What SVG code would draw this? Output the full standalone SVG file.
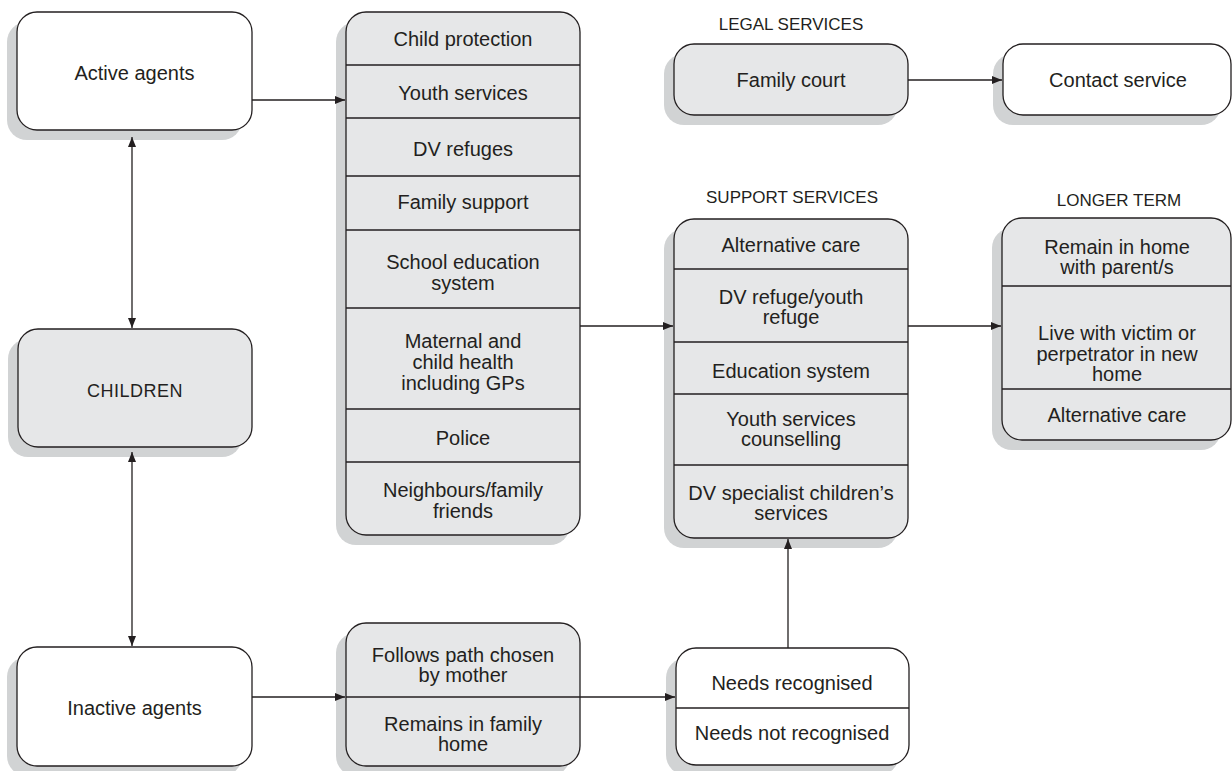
<svg xmlns="http://www.w3.org/2000/svg" width="1232" height="771" viewBox="0 0 1232 771">
<defs>
<style>
.sh{fill:#d1d3d4;stroke:none}
.bx{stroke:#231f20;stroke-width:1.3}
.g{fill:#e6e7e8}
.w{fill:#ffffff}
.dv{stroke:#231f20;stroke-width:1.3;fill:none}
text{font-family:"Liberation Sans",Arial,sans-serif;font-size:20px;fill:#231f20;text-anchor:middle}
.hd{font-size:17px}
.cn{stroke:#231f20;stroke-width:1.3;fill:none;marker-end:url(#ah)}
.bi{marker-start:url(#ah)}
</style>
<marker id="ah" markerUnits="userSpaceOnUse" markerWidth="11" markerHeight="9" refX="10" refY="4" orient="auto-start-reverse" viewBox="0 0 11 9">
<path d="M0,0 L10,4 L0,8 z" fill="#231f20"/>
</marker>
</defs>

<g id="active">
<rect class="sh" x="7" y="22" width="235" height="118" rx="20"/>
<rect class="bx w" x="17" y="12" width="235" height="118" rx="20"/>
<text x="134.5" y="80">Active agents</text>
</g>

<g id="children">
<rect class="sh" x="8" y="339" width="234" height="118" rx="20"/>
<rect class="bx g" x="18" y="329" width="234" height="118" rx="20"/>
<text x="135" y="397" style="font-size:18px;letter-spacing:0.5px">CHILDREN</text>
</g>

<g id="inactive">
<rect class="sh" x="7" y="657" width="235" height="119" rx="20"/>
<rect class="bx w" x="17" y="647" width="235" height="119" rx="20"/>
<text x="134.5" y="715">Inactive agents</text>
</g>

<g id="agencies">
<rect class="sh" x="336" y="22" width="234" height="523" rx="20"/>
<rect class="bx g" x="346" y="12" width="234" height="523" rx="20"/>
<path class="dv" d="M346,65H580M346,118H580M346,176H580M346,230H580M346,308H580M346,409H580M346,462H580"/>
<text x="463" y="46">Child protection</text>
<text x="463" y="100">Youth services</text>
<text x="463" y="156">DV refuges</text>
<text x="463" y="209">Family support</text>
<text x="463" y="269">School education</text>
<text x="463" y="290">system</text>
<text x="463" y="348">Maternal and</text>
<text x="463" y="369">child health</text>
<text x="463" y="390">including GPs</text>
<text x="463" y="445">Police</text>
<text x="463" y="497">Neighbours/family</text>
<text x="463" y="518">friends</text>
</g>

<g id="follows">
<rect class="sh" x="336" y="633" width="234" height="143" rx="20"/>
<rect class="bx g" x="346" y="623" width="234" height="143" rx="20"/>
<path class="dv" d="M346,697H580"/>
<text x="463" y="662">Follows path chosen</text>
<text x="463" y="682">by mother</text>
<text x="463" y="731">Remains in family</text>
<text x="463" y="751">home</text>
</g>

<g id="needs">
<rect class="sh" x="666" y="658" width="233" height="117" rx="20"/>
<rect class="bx w" x="676" y="648" width="233" height="117" rx="20"/>
<path class="dv" d="M676,708H909"/>
<text x="792" y="690">Needs recognised</text>
<text x="792" y="740">Needs not recognised</text>
</g>

<g id="legal-header"><text class="hd" x="791" y="30">LEGAL SERVICES</text></g>

<g id="family-court">
<rect class="sh" x="664" y="54" width="234" height="71" rx="20"/>
<rect class="bx g" x="674" y="44" width="234" height="71" rx="20"/>
<text x="791" y="87">Family court</text>
</g>

<g id="contact-service">
<rect class="sh" x="993" y="54" width="228" height="71" rx="20"/>
<rect class="bx w" x="1003" y="44" width="228" height="71" rx="20"/>
<text x="1118" y="87">Contact service</text>
</g>

<g id="support-header"><text class="hd" x="792" y="203">SUPPORT SERVICES</text></g>

<g id="support">
<rect class="sh" x="664" y="229" width="234" height="319" rx="20"/>
<rect class="bx g" x="674" y="219" width="234" height="319" rx="20"/>
<path class="dv" d="M674,269H908M674,342H908M674,394H908M674,465H908"/>
<text x="791" y="252">Alternative care</text>
<text x="791" y="304">DV refuge/youth</text>
<text x="791" y="324">refuge</text>
<text x="791" y="378">Education system</text>
<text x="791" y="426">Youth services</text>
<text x="791" y="446">counselling</text>
<text x="791" y="500">DV specialist children’s</text>
<text x="791" y="520">services</text>
</g>

<g id="longer-header"><text class="hd" x="1119" y="206">LONGER TERM</text></g>

<g id="longer-term">
<rect class="sh" x="992" y="228" width="229" height="222" rx="20"/>
<rect class="bx g" x="1002" y="218" width="229" height="222" rx="20"/>
<path class="dv" d="M1002,286H1231M1002,389H1231"/>
<text x="1117" y="254">Remain in home</text>
<text x="1117" y="274">with parent/s</text>
<text x="1117" y="340">Live with victim or</text>
<text x="1117" y="361">perpetrator in new</text>
<text x="1117" y="381">home</text>
<text x="1117" y="422">Alternative care</text>
</g>

<g id="connectors">
<path class="cn" d="M252,100H345"/>
<path class="cn" d="M580,326H673"/>
<path class="cn" d="M908,326H1001"/>
<path class="cn" d="M908,80H1002"/>
<path class="cn bi" d="M132,137V328"/>
<path class="cn bi" d="M132,452V646"/>
<path class="cn" d="M252,697H345"/>
<path class="cn" d="M580,697H675"/>
<path class="cn" d="M788,648V539"/>
</g>
</svg>
